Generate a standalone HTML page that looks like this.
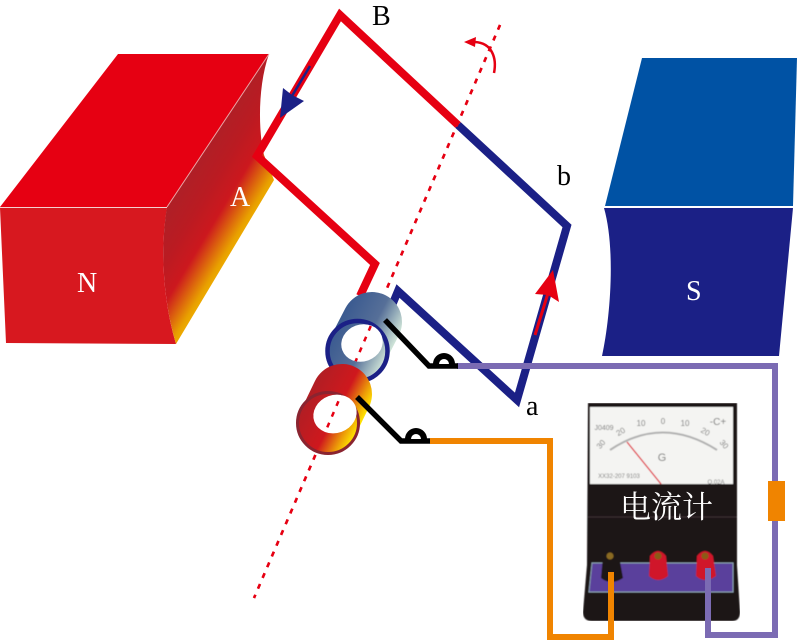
<!DOCTYPE html>
<html>
<head>
<meta charset="utf-8">
<style>
html,body{margin:0;padding:0;background:#fff}
svg{display:block}
.t{font-family:"Liberation Serif",serif;font-size:28px}
</style>
</head>
<body>
<svg width="797" height="641" viewBox="0 0 797 641" xmlns="http://www.w3.org/2000/svg">
<defs>
<linearGradient id="side" gradientUnits="userSpaceOnUse" x1="218" y1="130" x2="281" y2="168">
<stop offset="0" stop-color="#b01f26"/><stop offset=".3" stop-color="#ba1b22"/><stop offset=".6" stop-color="#cc181e"/><stop offset=".95" stop-color="#e8a000"/><stop offset="1" stop-color="#eca800"/>
</linearGradient>
<linearGradient id="bc" gradientUnits="userSpaceOnUse" x1="338" y1="322" x2="392" y2="350">
<stop offset="0" stop-color="#3a5a90"/><stop offset=".55" stop-color="#566f98"/><stop offset="1" stop-color="#d3e8da"/>
</linearGradient>
<linearGradient id="rc" gradientUnits="userSpaceOnUse" x1="308" y1="394" x2="362" y2="422">
<stop offset="0" stop-color="#b01e24"/><stop offset=".55" stop-color="#cf181d"/><stop offset=".82" stop-color="#ec9a08"/><stop offset="1" stop-color="#ffe600"/>
</linearGradient>
<clipPath id="holes">
<ellipse cx="362" cy="343" rx="21" ry="18.500" transform="rotate(-20 362 343)"/>
<ellipse cx="335" cy="414" rx="22" ry="19" transform="rotate(-20 335 414)"/>
<rect x="240" y="452" width="120" height="160"/>
<rect x="380" y="0" width="130" height="292"/>
</clipPath>
<filter id="soft" x="0" y="0" width="100%" height="100%"><feGaussianBlur stdDeviation=".5"/></filter>
</defs>

<!-- N magnet -->
<polygon points="118,54 269,54 167,207 0,207" fill="#e60012"/>
<path d="M0,208 L167,208 C160,250 163,300 176,344 L6,343 Z" fill="#d7181f"/>
<path d="M269,54 C258,85 258,130 264,155 L274,180 L176,344 C163,300 160,250 167,207 Z" fill="url(#side)"/>
<line x1="269" y1="54" x2="167" y2="207" stroke="#e9a6a6" stroke-width="1"/>
<line x1="0" y1="207.500" x2="167" y2="207.500" stroke="#f4d0d0" stroke-width="1"/>

<!-- S magnet -->
<polygon points="642,58 797,58 793,206 605,206" fill="#0052a4"/>
<path d="M604,208 L793,208 L779,356 L602,356 C610,320 616,250 604,208 Z" fill="#1b2086"/>

<!-- axis -->
<line x1="500" y1="25" x2="254" y2="598" stroke="#e60012" stroke-width="2.500" stroke-dasharray="5 6.700" clip-path="url(#holes)"/>

<!-- coil -->
<polyline points="458,125 567,226 517,400 398,291 388,315" fill="none" stroke="#1b2086" stroke-width="8" stroke-linejoin="miter"/>
<polyline points="360,296 375,264 257,156 340,15 458,125" fill="none" stroke="#e60012" stroke-width="8" stroke-linejoin="miter"/>

<!-- blue arrow -->
<line x1="310" y1="66" x2="292" y2="96" stroke="#1b2086" stroke-width="2.500"/>
<polygon points="280,118 283,88 292,95 304,101" fill="#1b2086"/>
<!-- red arrow -->
<line x1="535" y1="335" x2="549" y2="290" stroke="#e60012" stroke-width="3"/>
<polygon points="553,270 535,294 548,295 559,302" fill="#e60012"/>
<!-- rotation arrow -->
<path d="M494,73 C497,58 492,43 475,42" fill="none" stroke="#e60012" stroke-width="2.500"/>
<polygon points="464,42 476,37 475,47" fill="#e60012"/>

<!-- blue cylinder -->
<line x1="357" y1="351" x2="372" y2="322" stroke="url(#bc)" stroke-width="60" stroke-linecap="round"/>
<circle cx="357.500" cy="351" r="30" fill="url(#bc)" stroke="#1b2086" stroke-width="4.500"/>
<ellipse cx="362" cy="343" rx="21" ry="18.500" fill="#fff" transform="rotate(-20 362 343)"/>

<!-- red cylinder -->
<line x1="328" y1="423" x2="342" y2="394" stroke="url(#rc)" stroke-width="60" stroke-linecap="round"/>
<circle cx="328" cy="423" r="30.500" fill="url(#rc)" stroke="#8a2430" stroke-width="3"/>
<ellipse cx="335" cy="414" rx="22" ry="19" fill="#fff" transform="rotate(-20 335 414)"/>

<!-- axis in holes again -->
<line x1="500" y1="25" x2="254" y2="598" stroke="#e60012" stroke-width="2.500" stroke-dasharray="5 6.700" clip-path="url(#holes)"/>

<!-- meter -->
<g filter="url(#soft)">
<path d="M588,403 L737,403 L737,565 L740,612 Q740,621 732,621 L592,621 Q583,621 583,612 L587,565 Z" fill="#1a1315"/>
<rect x="590" y="407" width="143" height="77" fill="#f4f4f2"/>
<path d="M610,450 Q662,415 717,450" fill="none" stroke="#b0b0b0" stroke-width="2"/>
<g font-family="Liberation Sans,sans-serif" font-size="8" fill="#777" text-anchor="middle">
<text x="603" y="446" transform="rotate(-50 603 446)">30</text><text x="622" y="434" transform="rotate(-30 622 434)">20</text><text x="641" y="426">10</text><text x="663" y="424">0</text><text x="685" y="426">10</text><text x="704" y="434" transform="rotate(30 704 434)">20</text><text x="722" y="446" transform="rotate(50 722 446)">30</text>
<text x="662" y="461" font-size="11">G</text>
<text x="604" y="430" font-size="7">J0409</text>
<text x="619" y="478" font-size="6">XX32-207 9103</text>
<text x="716" y="484" font-size="6">O.02A</text>
<text x="718" y="425" font-size="10">-C+</text>
</g>
<line x1="627" y1="442" x2="661" y2="484" stroke="#e02030" stroke-width="1.300"/>
<line x1="588" y1="517" x2="737" y2="517" stroke="#3a3234" stroke-width="1"/>
<polygon points="592,563 733,563 733,592 589,592" fill="#5a3f9c" stroke="#8ba2b0" stroke-width="1"/>
<path d="M603,556 Q611,548 619,556 L623,578 Q611,586 601,578 Z" fill="#1c1416"/>
<circle cx="610" cy="556" r="3.500" fill="#8a6a20"/>
<path d="M650,556 Q658,546 666,556 L668,576 Q658,584 649,576 Z" fill="#d0122a"/>
<circle cx="658" cy="556" r="3.500" fill="#8a5a18"/>
<path d="M697,556 Q705,546 713,556 L716,576 Q705,584 696,576 Z" fill="#d0122a"/>
<circle cx="705" cy="556" r="3.500" fill="#8a5a18"/>
</g>
<text x="620" y="518" font-family="'Liberation Serif','Noto Serif CJK SC',serif" font-size="31" fill="#fff">电流计</text>

<!-- wires -->
<polyline points="457,366 775,366 775,635 708,635 708,568" fill="none" stroke="#7b6bb3" stroke-width="6"/>
<polyline points="430,441 550,441 550,637 611,637 611,572" fill="none" stroke="#f08400" stroke-width="6"/>
<rect x="768" y="481" width="17" height="40" fill="#f08400"/>

<!-- black connectors -->
<polyline points="385,320 429,366 458,366" fill="none" stroke="#000" stroke-width="5.500"/>
<path d="M433,364 A11,11 0 0 1 455,364 Z" fill="#000"/>
<path d="M439,364 A5,5 0 0 1 449,364 Z" fill="#fff"/>
<polyline points="357,397 401,441 430,441" fill="none" stroke="#000" stroke-width="5.500"/>
<path d="M405,439 A11,11 0 0 1 427,439 Z" fill="#000"/>
<path d="M411,439 A5,5 0 0 1 421,439 Z" fill="#fff"/>

<!-- labels -->
<text class="t" x="372" y="25" fill="#000">B</text>
<text class="t" x="230" y="206" fill="#fff">A</text>
<text class="t" x="77" y="292" fill="#fff">N</text>
<text class="t" x="686" y="300" fill="#fff">S</text>
<text class="t" x="557" y="185" fill="#000">b</text>
<text class="t" x="526" y="415" fill="#000">a</text>
</svg>
</body>
</html>
